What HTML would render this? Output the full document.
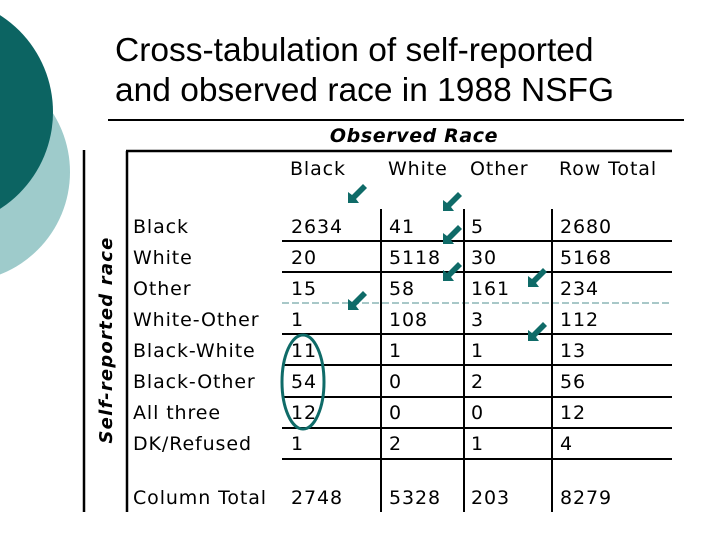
<!DOCTYPE html>
<html><head><meta charset="utf-8"><style>
body{margin:0;width:720px;height:540px;overflow:hidden;background:#fff;}
svg text{font-family:"DejaVu Sans","Liberation Sans",sans-serif;}
</style></head><body>
<svg width="720" height="540" xmlns="http://www.w3.org/2000/svg">
<circle cx="-40" cy="172" r="110" fill="#9ecbcb"/>
<circle cx="-62" cy="112" r="115" fill="#0c6462"/>
<text x="115" y="61" font-size="33.5" style="font-family:'Liberation Sans',sans-serif">Cross-tabulation of self-reported</text>
<text x="115" y="101" font-size="33.5" style="font-family:'Liberation Sans',sans-serif">and observed race in 1988 NSFG</text>
<line x1="108" y1="120" x2="684" y2="120" stroke="#000" stroke-width="2"/>
<text x="414" y="142" font-size="19" font-weight="bold" font-style="italic" text-anchor="middle" letter-spacing="0.6">Observed Race</text>
<line x1="126" y1="151" x2="672" y2="151" stroke="#000" stroke-width="2.5"/>
<line x1="84" y1="150" x2="84" y2="512" stroke="#000" stroke-width="2.5"/>
<line x1="127" y1="151" x2="127" y2="512" stroke="#000" stroke-width="2.5"/>
<text transform="translate(112,340) rotate(-90)" font-size="18" font-weight="bold" font-style="italic" text-anchor="middle" letter-spacing="1.2">Self-reported race</text>
<g id="tbl"></g>
<g id="arrows" fill="#0f6b68"></g>
<ellipse cx="303" cy="382" rx="21" ry="47" fill="none" stroke="#0f6b68" stroke-width="3"/>
</svg>
<script>
const colHeaders=["Black","White","Other","Row Total"];
const rowLabels=["Black","White","Other","White-Other","Black-White","Black-Other","All three","DK/Refused"];
const colBlack=[2634,20,15,1,11,54,12,1];
const colWhite=[41,5118,58,108,1,0,0,2];
const colOther=[5,30,161,3,1,2,0,1];
const rowTotal=[2680,5168,234,112,13,56,12,4];
const colTotals=[2748,5328,203,8279];
const NS="http://www.w3.org/2000/svg";
const g=document.getElementById('tbl');
const colX=[291,389,471,560];
const rowY=[226,257,288,319,350,381,412,443];
const lineY=[241,272,334,365,397,428,459];
function t(x,y,s,name){const e=document.createElementNS(NS,'text');e.setAttribute('x',x);e.setAttribute('y',y+7);e.setAttribute('font-size','19');e.setAttribute('letter-spacing','0.9');e.textContent=s;


g.appendChild(e);}
function l(x1,y1,x2,y2,name,extra){const e=document.createElementNS(NS,'line');e.setAttribute('x1',x1);e.setAttribute('y1',y1);e.setAttribute('x2',x2);e.setAttribute('y2',y2);e.setAttribute('stroke',extra||'#000');e.setAttribute('stroke-width','2');if(extra)e.setAttribute('stroke-dasharray','7 3');


g.appendChild(e);}
colHeaders.forEach((h,i)=>t(colX[i]-1,168,h,'column-header'));
const cols=[colBlack,colWhite,colOther,rowTotal];
rowLabels.forEach((r,i)=>{t(133,rowY[i],r,'row-label');cols.forEach((c,j)=>t(colX[j],rowY[i],String(c[i]),'cell-value'));});
t(133,497,"Column Total",'column-total-label');
colTotals.forEach((v,j)=>t(colX[j],497,String(v),'column-total-value'));
lineY.forEach(y=>l(282,y,672,y,'row-rule'));
l(282,303,672,303,'dashed-separator','#a8c8c8');
[381,464,552].forEach(x=>l(x,209,x,512,'column-rule'));
const ag=document.getElementById('arrows');
const tips=[[348,203],[443,211],[443,244],[443,281],[528,287],[348,310],[528,341]];
tips.forEach(([x,y])=>{const p=document.createElementNS(NS,'path');
p.setAttribute('d',`M${x} ${y} l0 -11 l4 3 l11 -11 l4 4 l-11 11 l3 4 z`);


ag.appendChild(p);});
</script>
</body></html>
